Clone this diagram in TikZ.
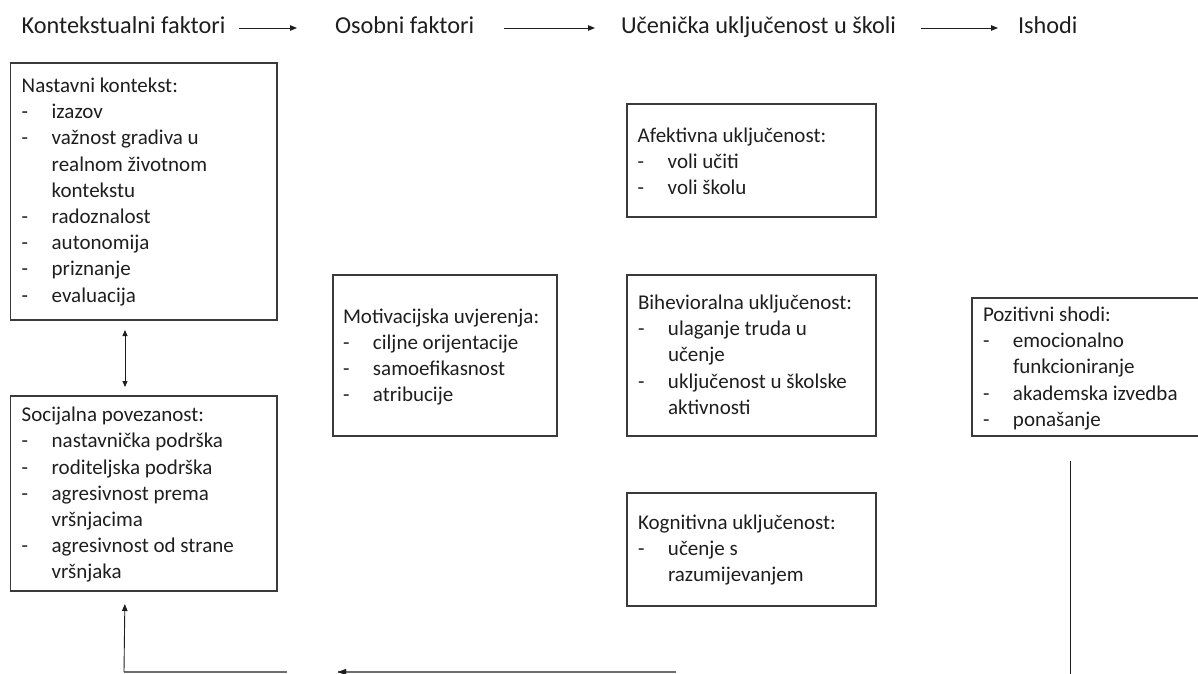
\documentclass[tikz,border=0pt]{standalone}
\usepackage{fontspec}
\setmainfont{Carlito}
\usetikzlibrary{arrows.meta}

\definecolor{ink}{HTML}{1E1E1E}
\definecolor{frame}{HTML}{3A3A3A}
\definecolor{loopgray}{HTML}{6E6E6E}

% one text line; a dashed list item (dash in a 30bp column); an indented continuation
\newcommand\txtline[1]{\hbox{#1}}
\newcommand\dashitem[1]{\hbox{\makebox[30bp][l]{-}#1}}
\newcommand\dashcont[1]{\hbox{\hspace*{30bp}#1}}
% stack of lines whose baseline is the first line's baseline
\newcommand\boxtext[1]{\vtop{\fontsize{21bp}{26.2bp}\selectfont
  \baselineskip=26.2bp \lineskiplimit=-30bp #1}}

\tikzset{
  frame/.style={draw=frame, line width=1.1bp, inner sep=0pt, outer sep=0pt,
                anchor=north west, rectangle},
  boxtxt/.style={inner sep=0pt, outer sep=0pt, anchor=base west, text=ink},
  head/.style={inner sep=0pt, outer sep=0pt, anchor=base west, text=ink,
               font=\fontsize{24.3bp}{28bp}\selectfont, text height=17bp, text depth=5bp},
  flow/.style={line width=0.9bp, draw=ink, -{Triangle[length=7bp,width=5.5bp]}},
  both/.style={line width=0.9bp, draw=ink, {Triangle[length=6bp,width=5bp]}-{Triangle[length=6bp,width=5bp]}},
  fbline/.style={line width=1.7bp, draw=loopgray},
}

\begin{document}
\begin{tikzpicture}[x=1bp, y=-1bp]
\useasboundingbox (0,0) rectangle (1198,674);
\clip (0,0) rectangle (1198,674);

% column headings
\node[head] (h1) at (21.7,34) {Kontekstualni faktori};
\node[head] (h2) at (335,34) {Osobni faktori};
\node[head] (h3) at (621,34) {Učenička uključenost u školi};
\node[head] (h4) at (1018,34) {Ishodi};
\draw[flow, shorten <=13bp, shorten >=38bp] (h1.east) -- (h2.west);
\draw[flow, shorten <=30bp, shorten >=26bp] (h2.east) -- (h3.west);
\draw[flow, shorten <=25bp, shorten >=20bp] (h3.east) -- (h4.west);

% contextual factors
\node[frame, minimum width=266.3bp, minimum height=257bp] (ctx) at (10.7,63) {};
\node[boxtxt] (ctxt) at (21.7,92.5) {\boxtext{%
  \txtline{Nastavni kontekst:}
  \dashitem{izazov}
  \dashitem{važnost gradiva u}
  \dashcont{realnom životnom}
  \dashcont{kontekstu}
  \dashitem{radoznalost}
  \dashitem{autonomija}
  \dashitem{priznanje}
  \dashitem{evaluacija}}};

\node[frame, minimum width=266.3bp, minimum height=195bp] (soc) at (10.7,396) {};
\node[boxtxt] (soct) at (21.7,421.7) {\boxtext{%
  \txtline{Socijalna povezanost:}
  \dashitem{nastavnička podrška}
  \dashitem{roditeljska podrška}
  \dashitem{agresivnost prema}
  \dashcont{vršnjacima}
  \dashitem{agresivnost od strane}
  \dashcont{vršnjaka}}};

\draw[both] ([xshift=114.3bp,yshift=-10bp]ctx.south west) -- ([xshift=114.3bp,yshift=9bp]soc.north west);

% personal factors
\node[frame, minimum width=224bp, minimum height=161bp] (mot) at (333,275) {};
\node[boxtxt] (mott) at (343,323) {\boxtext{%
  \txtline{Motivacijska uvjerenja:}
  \dashitem{ciljne orijentacije}
  \dashitem{samoefikasnost}
  \dashitem{atribucije}}};

% engagement
\node[frame, minimum width=249bp, minimum height=113bp] (aff) at (627,104) {};
\node[boxtxt] (afft) at (637.7,142.3) {\boxtext{%
  \txtline{Afektivna uključenost:}
  \dashitem{voli učiti}
  \dashitem{voli školu}}};

\node[frame, minimum width=249bp, minimum height=161bp] (beh) at (627,275) {};
\node[boxtxt] (beht) at (638,309.5) {\boxtext{%
  \txtline{Bihevioralna uključenost:}
  \dashitem{ulaganje truda u}
  \dashcont{učenje}
  \dashitem{uključenost u školske}
  \dashcont{aktivnosti}}};

\node[frame, minimum width=249bp, minimum height=113bp] (cog) at (627,493) {};
\node[boxtxt] (cogt) at (638,529) {\boxtext{%
  \txtline{Kognitivna uključenost:}
  \dashitem{učenje s}
  \dashcont{razumijevanjem}}};

% outcomes
\node[frame, minimum width=240bp, minimum height=138bp] (pos) at (972,298) {};
\node[boxtxt] (post) at (983,321.5) {\boxtext{%
  \txtline{Pozitivni shodi:}
  \dashitem{emocionalno}
  \dashcont{funkcioniranje}
  \dashitem{akademska izvedba}
  \dashitem{ponašanje}}};

% feedback loop back to social connectedness
\coordinate (fbTop) at (1070,461);
\coordinate (fbBot) at (1070,680);
\coordinate (fbR) at (676,672);
\coordinate (fbL) at (338,672);
\coordinate (fbGapEnd) at (287,672);
\coordinate (fbCorner) at (124,672);
\draw[line width=1bp, draw=ink] (fbTop) -- (fbBot);
\draw[fbline] (fbR) -- (fbL);
\draw[draw=ink, line width=0.1bp, fill=ink] (fbL) -- ++(8bp,-3bp) -- ++(0,6bp) -- cycle;
\draw[fbline] (fbGapEnd) -- (fbCorner);
\draw[flow] (fbCorner) -- ([xshift=-19bp, yshift=-13bp]soc.south);
\end{tikzpicture}
\end{document}
